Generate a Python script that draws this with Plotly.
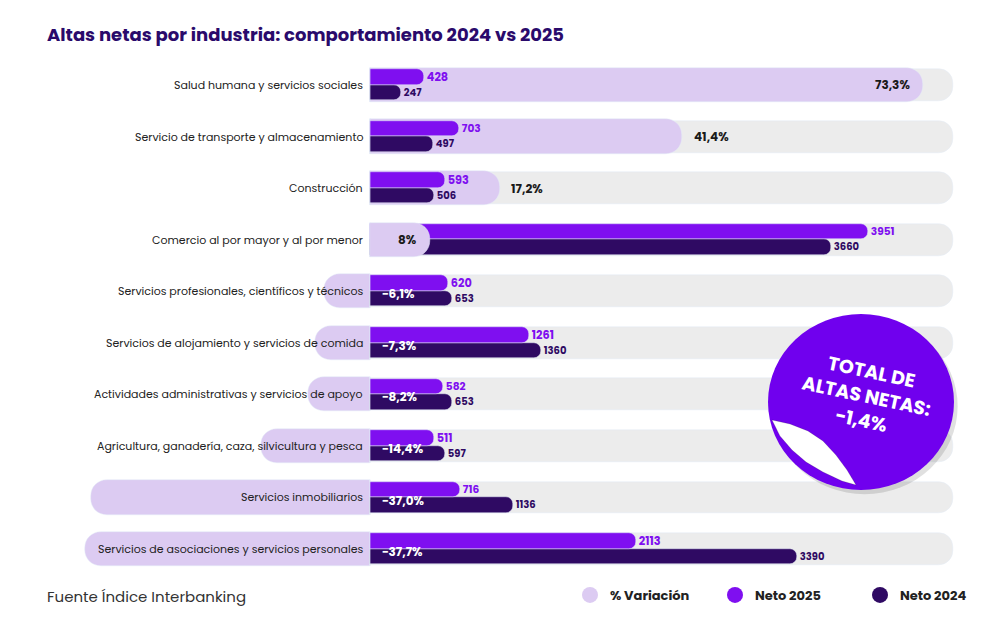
import plotly.graph_objects as go

categories = [
    "Salud humana y servicios sociales",
    "Servicio de transporte y almacenamiento",
    "Construcción",
    "Comercio al por mayor y al por menor",
    "Servicios profesionales, científicos y técnicos",
    "Servicios de alojamiento y servicios de comida",
    "Actividades administrativas y servicios de apoyo",
    "Agricultura, ganadería, caza, silvicultura y pesca",
    "Servicios inmobiliarios",
    "Servicios de asociaciones y servicios personales",
]
variacion = [73.3, 41.4, 17.2, 8.0, -6.1, -7.3, -8.2, -14.4, -37.0, -37.7]
variacion_labels = ["73,3%", "41,4%", "17,2%", "8%", "−6,1%", "−7,3%", "−8,2%", "−14,4%", "−37,0%", "−37,7%"]
neto_2025 = [428, 703, 593, 3951, 620, 1261, 582, 511, 716, 2113]
neto_2024 = [247, 497, 506, 3660, 653, 1360, 653, 597, 1136, 3390]

LAV = "#dccbf2"
PURPLE = "#7f0ff0"
DARK = "#2f0a63"
GREY = "#ececec"
FONT = "Poppins, Inter, Roboto, sans-serif"

OFF = 8
L, R, T, B = 40 - OFF, 955 - OFF, 54 - OFF, 580 - OFF
PCT_RANGE = [-43.7, 77.5]
NET_RANGE = [-2619, 4643]


def px(x, y):
    return (x - OFF - L) / (R - L), (B - (y - OFF)) / (B - T)


pos = list(range(len(categories)))
y25 = [p - 0.155 for p in pos]
y24 = [p + 0.145 for p in pos]
pos_var = [v if v > 10 else 0 for v in variacion]
neg_var = [v if v < 0 else 0 for v in variacion]
small = [v if 0 < v <= 10 else 0 for v in variacion]

fig = go.Figure()
fig.add_trace(go.Bar(y=pos, x=[PCT_RANGE[1] - 0.2] * len(pos), orientation="h", width=0.62,
                     marker=dict(color=GREY, cornerradius=14), hoverinfo="skip", showlegend=False))
fig.add_trace(go.Bar(y=pos, x=pos_var, orientation="h", width=0.66, xaxis="x2",
                     marker=dict(color=LAV, cornerradius=16), showlegend=False))
fig.add_trace(go.Bar(y=pos, x=neg_var, orientation="h", width=0.66, xaxis="x2",
                     marker=dict(color=LAV, cornerradius=16), showlegend=False))
fig.add_trace(go.Bar(y=y24, x=neto_2024, orientation="h", width=0.3, xaxis="x3",
                     marker=dict(color=DARK, cornerradius=7), showlegend=False,
                     texttemplate="<b>%{x}</b>", textposition="outside", cliponaxis=False,
                     textfont=dict(color=DARK, size=10, family=FONT)))
fig.add_trace(go.Bar(y=y25, x=neto_2025, orientation="h", width=0.3, xaxis="x3",
                     marker=dict(color=PURPLE, cornerradius=7), showlegend=False,
                     texttemplate="<b>%{x}</b>", textposition="outside", cliponaxis=False,
                     textfont=dict(color=PURPLE, size=12, family=FONT)))
# small positive variations sit on top of the net bars
fig.add_trace(go.Bar(y=pos, x=small, orientation="h", width=0.66, xaxis="x4",
                     marker=dict(color=LAV, cornerradius=16), showlegend=False, hoverinfo="skip"))

for name, col in [("% Variación", LAV), ("Neto 2025", PURPLE), ("Neto 2024", DARK)]:
    fig.add_trace(go.Scatter(x=[None], y=[None], mode="markers", name=f"<b>{name}</b>",
                             marker=dict(color=col, size=17, symbol="circle")))

ann = []
for i, cat in enumerate(categories):
    ann.append(dict(x=-0.6, y=i, xref="x", yref="y", text=cat, showarrow=False, xanchor="right",
                    yanchor="middle", font=dict(size=11, color="#222", family=FONT)))
    v = variacion[i]
    if v < 0:
        ann.append(dict(x=1.3, y=i + 0.05, xref="x", yref="y", text=f"<b>{variacion_labels[i]}</b>",
                        showarrow=False, xanchor="left", yanchor="middle",
                        font=dict(size=12, color="white", family=FONT)))
    elif v > 50 or v <= 10:
        ann.append(dict(x=v - 1.5, y=i, xref="x4", yref="y", text=f"<b>{variacion_labels[i]}</b>",
                        showarrow=False, xanchor="right", yanchor="middle",
                        font=dict(size=12, color="#1a1a1a", family=FONT)))
    else:
        ann.append(dict(x=v + 1.2, y=i, xref="x", yref="y", text=f"<b>{variacion_labels[i]}</b>",
                        showarrow=False, xanchor="left", yanchor="middle",
                        font=dict(size=12, color="#1a1a1a", family=FONT)))

cx, cy = px(866, 396)
ann.append(dict(x=cx, y=cy, xref="paper", yref="paper", text="<b>TOTAL DE<br>ALTAS NETAS:<br>−1,4%</b>",
                showarrow=False, textangle=12, xanchor="center", yanchor="middle",
                font=dict(size=19, color="white", family=FONT)))
sx, sy = px(45, 596)
ann.append(dict(x=sx, y=sy, xref="paper", yref="paper", text="Fuente Índice Interbanking", showarrow=False,
                xanchor="left", yanchor="middle", font=dict(size=15, color="#333", family=FONT)))
tx, ty = px(45, 35)
ann.append(dict(x=tx, y=ty, xref="paper", yref="paper",
                text="<b>Altas netas por industria: comportamiento 2024 vs 2025</b>",
                showarrow=False, xanchor="left", yanchor="middle", font=dict(size=18, color="#2a0a6b", family=FONT)))

x0, y0 = px(768, 490)
x1, y1 = px(954, 314)


def path(points):
    s = ""
    for k, (a, b) in enumerate(points):
        u, w = px(a, b)
        s += ("M" if k == 0 else "L") + f"{u:.4f},{w:.4f} "
    return s + "Z"


flap = [(772, 420), (790, 424), (808, 431), (823, 441), (836, 455), (847, 470), (856, 485),
        (842, 481), (823, 472), (806, 462), (792, 450), (780, 436)]
shapes = [
    dict(type="circle", xref="paper", yref="paper", x0=x0 + 0.004, y0=y0 - 0.008, x1=x1 + 0.004, y1=y1 - 0.008,
         fillcolor="rgba(0,0,0,0.12)", line=dict(width=0), layer="above"),
    dict(type="circle", xref="paper", yref="paper", x0=x0, y0=y0, x1=x1, y1=y1,
         fillcolor="#7000ee", line=dict(width=0), layer="above"),
    dict(type="path", xref="paper", yref="paper", path=path(flap), fillcolor="white",
         line=dict(color="rgba(0,0,0,0.15)", width=1), layer="above"),
]

fig.update_layout(
    width=1000, height=626,
    margin=dict(l=L, r=1000 - R, t=T, b=626 - B, autoexpand=False),
    barmode="overlay", bargap=0,
    plot_bgcolor="white", paper_bgcolor="white",
    font=dict(family=FONT),
    xaxis=dict(range=PCT_RANGE, visible=False, fixedrange=True),
    xaxis2=dict(range=PCT_RANGE, overlaying="x", visible=False),
    xaxis3=dict(range=NET_RANGE, overlaying="x", visible=False),
    xaxis4=dict(range=PCT_RANGE, overlaying="x", visible=False),
    yaxis=dict(range=[9.6, -0.6], visible=False),
    annotations=ann, shapes=shapes,
    legend=dict(orientation="h", x=px(570, 0)[0], xanchor="left", y=px(0, 595)[1], yanchor="middle",
                font=dict(size=13, color="#222", family=FONT),
                traceorder="normal", entrywidth=100),
)
fig.write_html("out.html")
